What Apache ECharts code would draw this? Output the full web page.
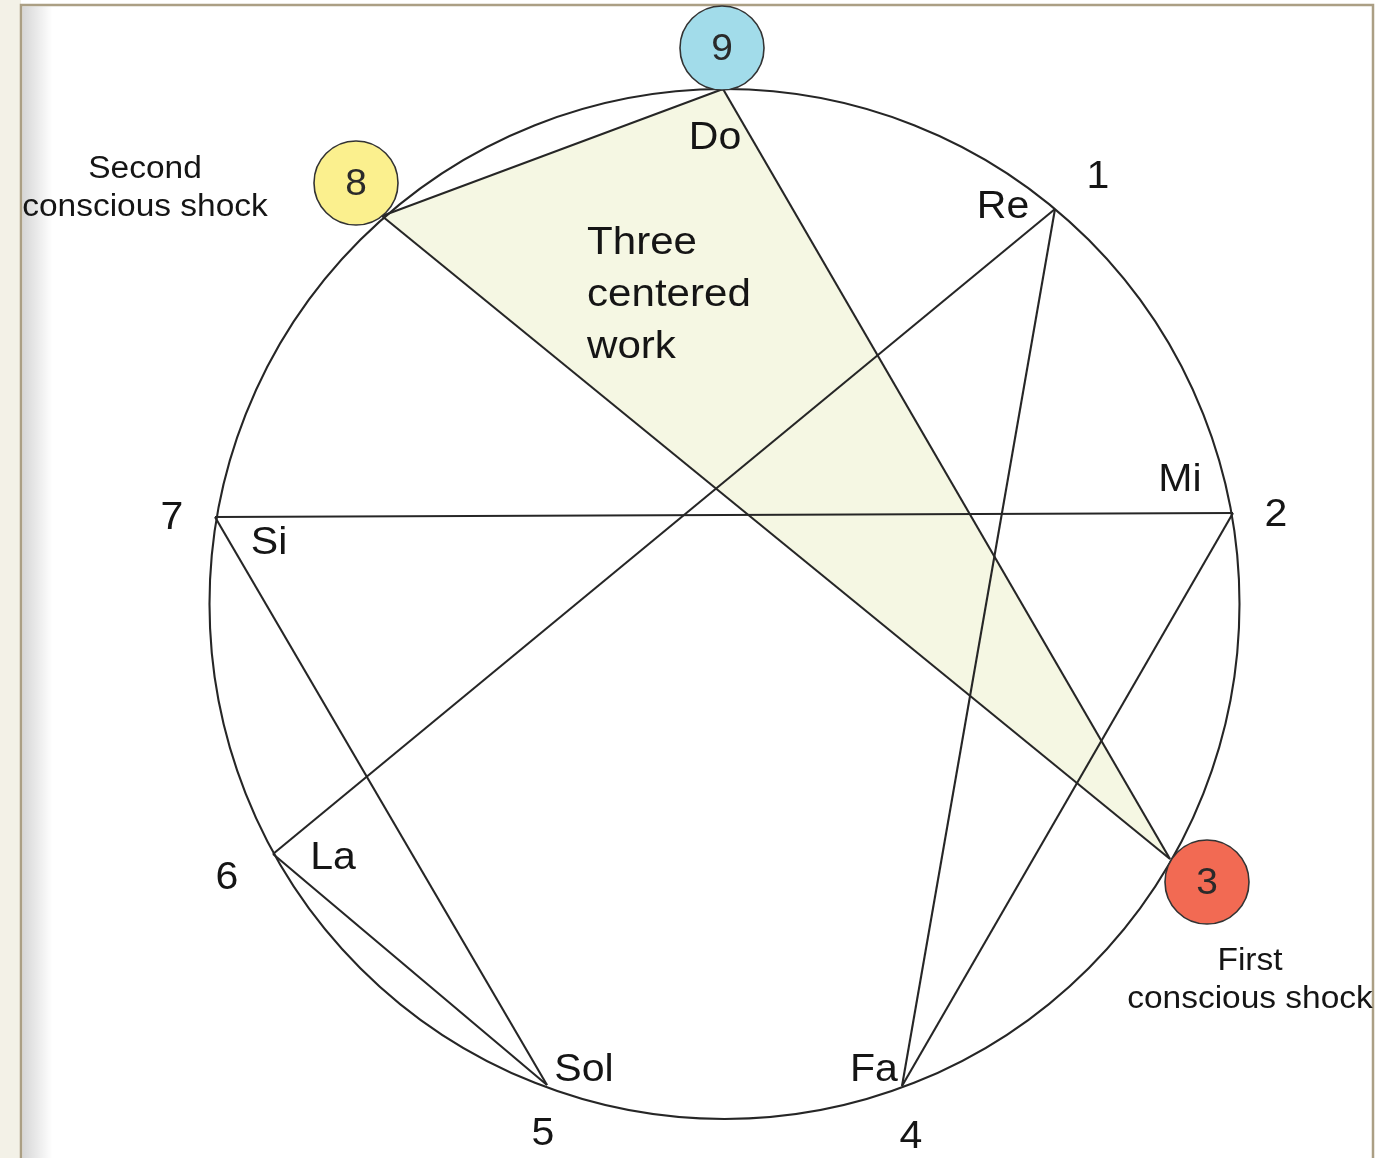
<!DOCTYPE html>
<html>
<head>
<meta charset="utf-8">
<script src="https://cdn.jsdelivr.net/npm/echarts@6/dist/echarts.min.js"></script>
<style>
html,body{margin:0;padding:0;background:#fff;}
#chart{width:1380px;height:1158px;}
</style>
</head>
<body>
<div id="chart"></div>
<script>
// ---- Data (diagram units) ----
const points = ['9', '1', '2', '3', '4', '5', '6', '7', '8'];
const vertexX = [723, 1055, 1233, 1170, 902, 547, 273, 215, 382];
const vertexY = [89, 209, 513, 859, 1086, 1085, 854, 517, 216];

const notes = ['Do', 'Re', 'Mi', '', 'Fa', 'Sol', 'La', 'Si', ''];
const noteX = [715, 1003, 1180, null, 874, 584, 333, 269, null];
const noteY = [139, 208, 481, null, 1071, 1071, 859, 544, null];

const numberLabels = ['1', '2', '4', '5', '6', '7'];
const numberX = [1098, 1276, 911, 543, 227, 172];
const numberY = [178, 516, 1138, 1135, 879, 519];

const circleCenter = [724.5, 604];
const circleRadius = 515;

const chords = [['9', '8'], ['8', '3'], ['3', '9'], ['1', '4'], ['4', '2'], ['2', '7'], ['7', '5'], ['5', '6'], ['6', '1']];
const workTriangle = ['9', '8', '3'];

const shockNodes = ['9', '8', '3'];
const shockX = [722, 356, 1207];
const shockY = [48, 183, 882];
const shockR = [42, 42, 42];
const shockColors = ['#a2dcea', '#fbf08e', '#f26a53'];

const annotations = ['Second\nconscious shock', 'First\nconscious shock', 'Three\ncentered\nwork'];
const annotationX = [145, 1250, 587];
const annotationY = [188, 980, 295];

// ---- Build ----
const idx = p => points.indexOf(p);
const chordData = chords.map(([a, b]) => [vertexX[idx(a)], vertexY[idx(a)], vertexX[idx(b)], vertexY[idx(b)]]);
const triData = [workTriangle.reduce((acc, p) => acc.concat([vertexX[idx(p)], vertexY[idx(p)]]), [])];

const FONT = '"Liberation Sans", Arial, sans-serif';
const INK = '#151515';
const LINE = '#262626';
const STRETCH = 1.08;

const textData = [];
notes.forEach((n, i) => { if (n) textData.push([noteX[i], noteY[i], n, 38, 'center']); });
numberLabels.forEach((n, i) => textData.push([numberX[i], numberY[i], n, 38, 'center']));

const chart = echarts.init(document.getElementById('chart'), null, {renderer: 'canvas'});

const option = {
  backgroundColor: '#ffffff',
  animation: false,
  grid: {left: 0, right: 0, top: 0, bottom: 0},
  xAxis: {type: 'value', min: 0, max: 1380, show: false},
  yAxis: {type: 'value', min: 0, max: 1158, inverse: true, show: false},
  graphic: [
    {type: 'rect', z: -10, shape: {x: 0, y: 0, width: 21, height: 1158}, style: {fill: '#f3f1e7'}},
    {type: 'rect', z: -9, shape: {x: 21, y: 5, width: 1352, height: 1170}, style: {fill: '#ffffff', stroke: '#ab9f84', lineWidth: 2.5}},
    {type: 'rect', z: -8, shape: {x: 22.5, y: 6.5, width: 30, height: 1160},
      style: {fill: new echarts.graphic.LinearGradient(0, 0, 1, 0, [
        {offset: 0, color: 'rgba(0,0,0,0.16)'},
        {offset: 1, color: 'rgba(0,0,0,0)'}
      ])}}
  ],
  series: [
    {
      type: 'custom', name: 'three-centered-work', z: 1,
      coordinateSystem: 'cartesian2d',
      data: triData,
      renderItem: function (params, api) {
        const pts = [];
        for (let i = 0; i < 3; i++) pts.push(api.coord([api.value(2 * i), api.value(2 * i + 1)]));
        return {type: 'polygon', shape: {points: pts}, style: {fill: '#f5f7e3', stroke: 'none'}};
      }
    },
    {
      type: 'custom', name: 'circle', z: 2,
      coordinateSystem: 'cartesian2d',
      data: [[circleCenter[0], circleCenter[1], circleRadius]],
      renderItem: function (params, api) {
        const c = api.coord([api.value(0), api.value(1)]);
        const r = api.size([api.value(2), 0])[0];
        return {type: 'circle', shape: {cx: c[0], cy: c[1], r: r}, style: {fill: 'none', stroke: LINE, lineWidth: 2.1}};
      }
    },
    {
      type: 'custom', name: 'chords', z: 3,
      coordinateSystem: 'cartesian2d',
      data: chordData,
      renderItem: function (params, api) {
        const a = api.coord([api.value(0), api.value(1)]);
        const b = api.coord([api.value(2), api.value(3)]);
        return {type: 'line', shape: {x1: a[0], y1: a[1], x2: b[0], y2: b[1]}, style: {stroke: LINE, lineWidth: 2.1}};
      }
    },
    {
      type: 'custom', name: 'shocks', z: 4,
      coordinateSystem: 'cartesian2d',
      data: shockNodes.map((n, i) => [shockX[i], shockY[i], shockR[i], n]),
      renderItem: function (params, api) {
        const c = api.coord([api.value(0), api.value(1)]);
        const r = api.size([api.value(2), 0])[0];
        return {
          type: 'group',
          children: [
            {type: 'circle', shape: {cx: c[0], cy: c[1], r: r}, style: {fill: shockColors[params.dataIndex], stroke: '#333', lineWidth: 1.6}},
            {type: 'text', x: c[0], y: c[1] + 2, scaleX: STRETCH, style: {text: shockNodes[params.dataIndex], fill: '#2a2a2a', font: '36px ' + FONT, align: 'center', verticalAlign: 'middle'}}
          ]
        };
      }
    },
    {
      type: 'custom', name: 'labels', z: 5,
      coordinateSystem: 'cartesian2d',
      data: textData,
      renderItem: function (params, api) {
        const c = api.coord([api.value(0), api.value(1)]);
        const d = textData[params.dataIndex];
        return {type: 'text', x: c[0], y: c[1], scaleX: STRETCH, style: {text: d[2], fill: INK, font: d[3] + 'px ' + FONT, align: d[4], verticalAlign: 'middle'}};
      }
    },
    {
      type: 'custom', name: 'annotations', z: 5,
      coordinateSystem: 'cartesian2d',
      data: annotations.map((t, i) => [annotationX[i], annotationY[i], t]),
      renderItem: function (params, api) {
        const c = api.coord([api.value(0), api.value(1)]);
        const i = params.dataIndex;
        const big = i === 2;
        return {type: 'text', x: c[0], y: c[1], scaleX: STRETCH, style: {
          text: annotations[i], fill: INK,
          font: (big ? '39px ' : '31px ') + FONT,
          lineHeight: big ? 52 : 38,
          align: big ? 'left' : 'center', verticalAlign: 'middle'
        }};
      }
    }
  ]
};
chart.setOption(option);
</script>
</body>
</html>
